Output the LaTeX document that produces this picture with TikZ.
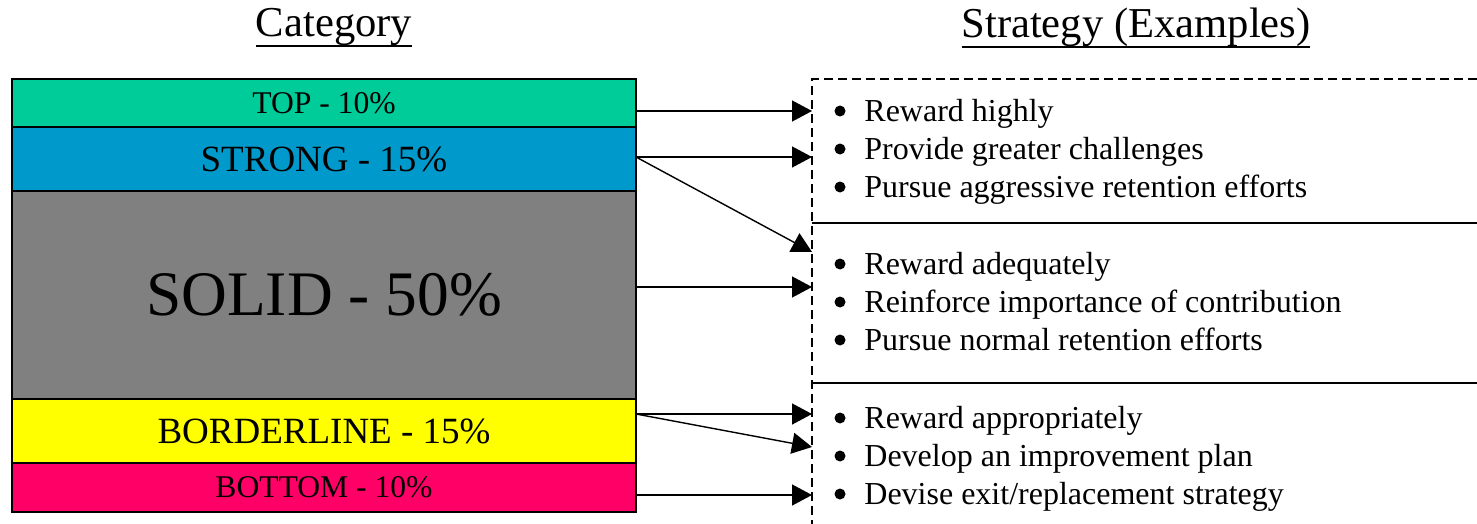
\documentclass[tikz,border=0pt]{standalone}
\usepackage{fontspec}
\setmainfont{Liberation Serif}
\usetikzlibrary{arrows.meta,positioning}
\definecolor{topgreen}{HTML}{00CC99}
\definecolor{strongblue}{HTML}{0099CC}
\definecolor{solidgray}{HTML}{808080}
\definecolor{borderyellow}{HTML}{FFFF00}
\definecolor{bottomred}{HTML}{FF0066}
\newsavebox{\headbox}
\newcommand{\headul}[1]{\sbox{\headbox}{#1}\rlap{\rule[-5pt]{\wd\headbox}{1pt}}\usebox{\headbox}}
\tikzset{
    %Define standard arrow tip
    >={Triangle[length=10pt,width=10.5pt]},
    %Define style for category bars
    catbox/.style={
           rectangle,
           draw=black, line width=0.8pt,
           minimum width=312pt,
           inner sep=0pt, outer sep=0pt,
           text centered},
    heading/.style={
           inner sep=0pt,
           font=\fontsize{21.3}{25}\selectfont},
    item/.style={
           anchor=base west,
           inner sep=0pt,
           font=\fontsize{16}{19}\selectfont},
    % Define arrow style
    pil/.style={
           ->,
           line width=0.7pt},
    frame/.style={
           line width=0.7pt,
           dash pattern=on 4.5pt off 2.5pt}
}

\begin{document}
\begin{tikzpicture}[x=0.5pt,y=-0.5pt]
\useasboundingbox (0,0) rectangle (1477,524);
% headings
\node[heading, anchor=base](cathead) at (334,37){\headul{Category}};
\node[heading, anchor=base](strathead) at (1136,38){\headul{Strategy (Examples)}};
% category bars
\node[catbox, fill=topgreen, minimum height=24pt, anchor=north west,
      font=\fontsize{15.8}{18}\selectfont](top) at (12,79){TOP - 10\%};
\node[catbox, fill=strongblue, minimum height=32pt, below=0pt of top,
      font=\fontsize{18.5}{22}\selectfont](strong){STRONG - 15\%};
\node[catbox, fill=solidgray, minimum height=104pt, below=0pt of strong,
      font=\fontsize{31.7}{36}\selectfont](solid){SOLID - 50\%};
\node[catbox, fill=borderyellow, minimum height=32pt, below=0pt of solid,
      font=\fontsize{18.5}{22}\selectfont](border){BORDERLINE - 15\%};
\node[catbox, fill=bottomred, minimum height=24.5pt, below=0pt of border,
      font=\fontsize{15.8}{18}\selectfont](bottom){BOTTOM - 10\%};
% strategy frame
\draw[frame] (1477,79) -- (812,79) -- (812,524);
\draw[line width=0.7pt] (812,223) -- (1477,223);
\draw[line width=0.7pt] (812,383) -- (1477,383);
% strategy items
\foreach \y/\txt [count=\i] in {121/Reward highly,159/Provide greater challenges,
    197/Pursue aggressive retention efforts,274/Reward adequately,
    312/Reinforce importance of contribution,350/Pursue normal retention efforts,
    428/Reward appropriately,466/Develop an improvement plan,
    504/{Devise exit/replacement strategy}}{
    \fill (840,\y-10) circle (2.75pt);
    \node[item](s\i) at (864,\y){\txt};
}
% arrow targets on the frame
\coordinate (t1) at (812,111);
\coordinate (t2) at (812,157);
\coordinate (t3) at (812,252);
\coordinate (t4) at (812,287);
\coordinate (t5) at (812,414);
\coordinate (t6) at (812,447);
\coordinate (t7) at (812,495);
\draw[pil] (top.east |- t1) -- (t1);
\draw[pil] (strong.east |- t2) -- (t2);
\draw[pil] (strong.east |- t2) -- (t3);
\draw[pil] (solid.east |- t4) -- (t4);
\draw[pil] (border.east |- t5) -- (t5);
\draw[pil] (border.east |- t5) -- (t6);
\draw[pil] (bottom.east |- t7) -- (t7);
\end{tikzpicture}
\end{document}
